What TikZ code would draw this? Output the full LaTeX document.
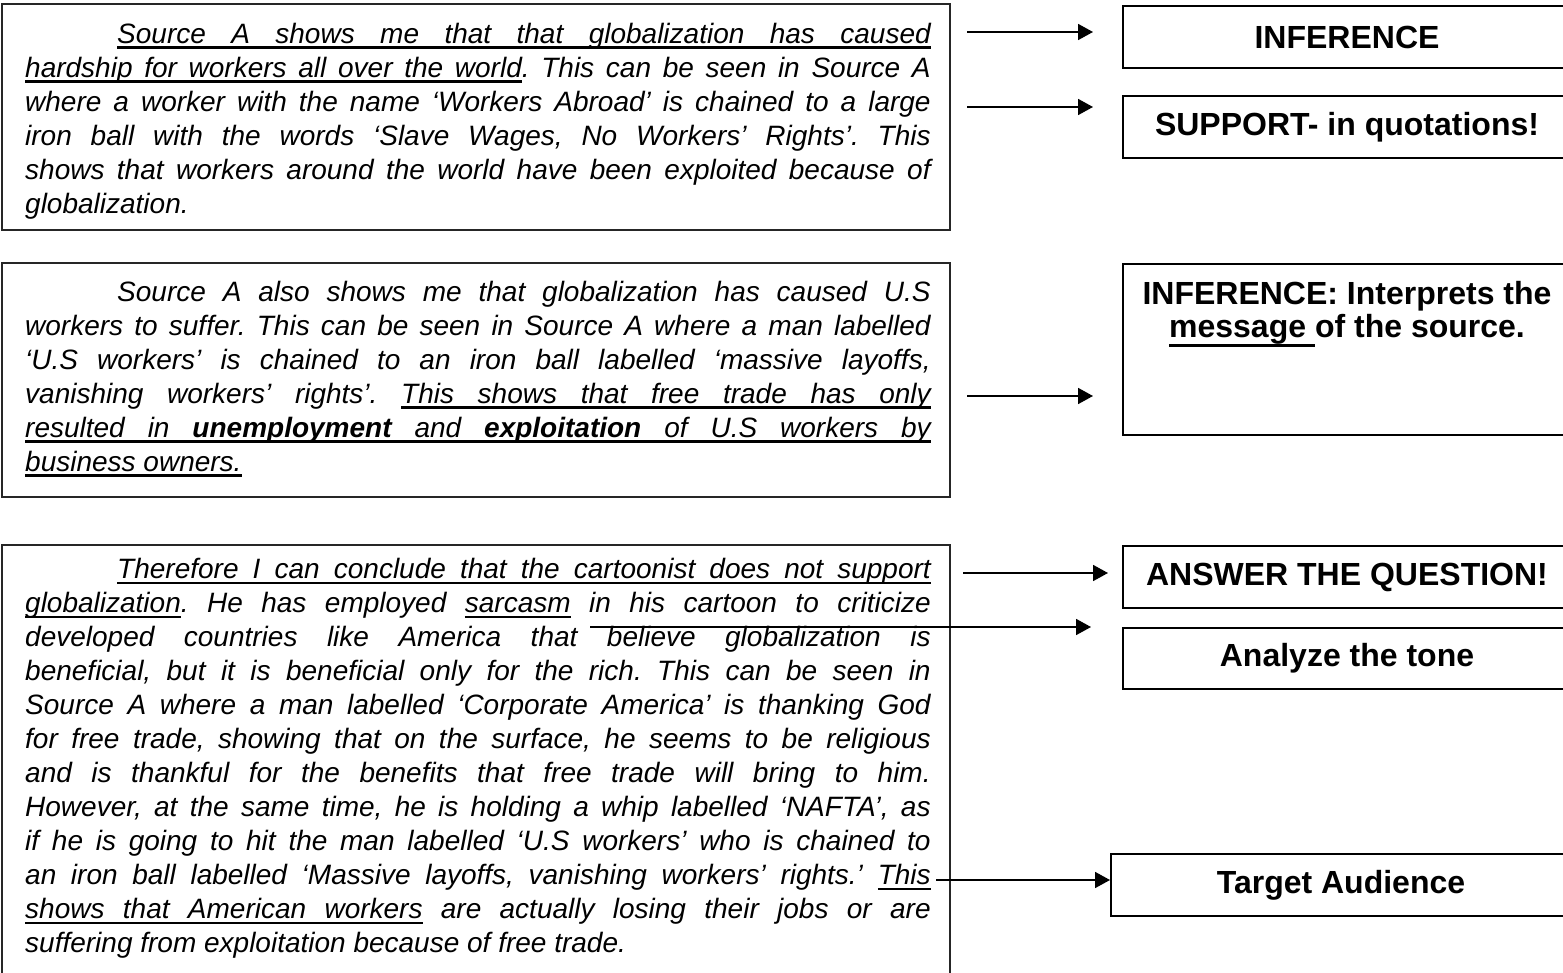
\documentclass[tikz,border=0pt]{standalone}
\usepackage{fontspec}
\usetikzlibrary{arrows.meta}
\newfontfamily\arialfont{Liberation Sans}
\newcommand\srcfont{\arialfont\itshape\fontsize{28pt}{34pt}\selectfont}
\newcommand\tagfont{\arialfont\bfseries\fontsize{32pt}{37pt}\selectfont}
% underlining that keeps the spaces stretchable
\newdimen\uldp \uldp=5.5pt
\newdimen\ulht \ulht=-3pt
\newcommand\ulword[1]{\leavevmode\setbox0\hbox{#1}\rlap{\rule[-\uldp]{\wd0}{\dimexpr\uldp+\ulht\relax}}\box0\relax}
\newcommand\ulspace{\leaders\hrule height\ulht depth\uldp\hskip\fontdimen2\font plus\fontdimen3\font minus\fontdimen4\font\relax}
\def\ulphrase#1{\ulsplit#1 \ulend}
\def\ulsplit#1 #2\ulend{\ulword{#1}\ifx\relax#2\relax\else\ulspace\ulsplit#2\ulend\fi}
\frenchspacing
\tolerance=10000
\hbadness=10000

\begin{document}
\begin{tikzpicture}[
  x=1pt, y=-1pt,
  >={Triangle[length=15pt,width=16pt]},
  frame/.style={draw=black!85, line width=2pt},
  src/.style={anchor=north west, inner sep=0pt, text width=905.5pt, align=justify, font=\srcfont},
  tag/.style={draw, line width=2pt, anchor=north west, minimum width=448pt, minimum height=62pt, inner sep=3pt, font=\tagfont},
  arr/.style={->, line width=1.8pt}
]
\useasboundingbox (0,0) rectangle (1563,973);

%========== source paragraphs (left) ==========
\draw[frame] (2,4) rectangle (950,230);
\node[src] (src1) at (25,19.2) {\strut\hspace*{92pt}\ulphrase{Source A shows me that that globalization has caused}\linebreak
\ulphrase{hardship for workers all over the world}. This can be seen in Source A\linebreak
where a worker with the name ‘Workers Abroad’ is chained to a large\linebreak
iron ball with the words ‘Slave Wages, No Workers’ Rights’. This\linebreak
shows that workers around the world have been exploited because of\linebreak
globalization.};

\draw[frame] (2,263) rectangle (950,497);
\node[src] (src2) at (25,277.2) {\strut\hspace*{92pt}Source A also shows me that globalization has caused U.S\linebreak
workers to suffer. This can be seen in Source A where a man labelled\linebreak
‘U.S workers’ is chained to an iron ball labelled ‘massive layoffs,\linebreak
vanishing workers’ rights’. \ulphrase{This shows that free trade has only}\linebreak
\ulphrase{resulted in {\bfseries unemployment} and {\bfseries exploitation} of U.S workers by}\linebreak
\ulphrase{business owners.}};

\draw[frame] (2,545) rectangle (950,990);
\node[src] (src3) at (25,554.7) {\strut\hspace*{92pt}\ulphrase{Therefore I can conclude that the cartoonist does not support}\linebreak
\ulphrase{globalization}. He has employed \ulphrase{sarcasm} in his cartoon to criticize\linebreak
developed countries like America that believe globalization is\linebreak
beneficial, but it is beneficial only for the rich. This can be seen in\linebreak
Source A where a man labelled ‘Corporate America’ is thanking God\linebreak
for free trade, showing that on the surface, he seems to be religious\linebreak
and is thankful for the benefits that free trade will bring to him.\linebreak
However, at the same time, he is holding a whip labelled ‘NAFTA’, as\linebreak
if he is going to hit the man labelled ‘U.S workers’ who is chained to\linebreak
an iron ball labelled ‘Massive layoffs, vanishing workers’ rights.’ \ulphrase{This}\linebreak
\ulphrase{shows that American workers} are actually losing their jobs or are\linebreak
suffering from exploitation because of free trade.};

%========== tags (right) ==========
\node[tag] (inf1) at (1122,5) {INFERENCE};
\node[tag] (sup) at (1122,95) {SUPPORT- in quotations!};
\node[tag, minimum height=171pt] (inf2) at (1122,263)
  {\uldp=9pt\ulht=-6pt\parbox[t][165pt][t]{442pt}{\baselineskip=33pt\centering
   \rule{0pt}{38pt}INFERENCE: Interprets the\\ \ulword{message}\ulspace of the source.}};
\node[tag] (ans) at (1122,545) {ANSWER THE QUESTION!};
\node[tag, minimum height=61pt] (tone) at (1122,627) {Analyze the tone};
\node[tag, minimum width=460pt] (aud) at (1110,853) {Target Audience};

%========== arrows ==========
\coordinate (a1) at (967,32);
\coordinate (a2) at (967,107);
\coordinate (a3) at (967,396);
\coordinate (a4) at (963,573);
\coordinate (a5) at (590,627);
\coordinate (a6) at (936,880);
\draw[arr, shorten >=29pt] (a1) -- (inf1.west |- a1);
\draw[arr, shorten >=29pt] (a2) -- (sup.west |- a2);
\draw[arr, shorten >=29pt] (a3) -- (inf2.west |- a3);
\draw[arr, shorten >=14pt] (a4) -- (ans.west |- a4);
\draw[arr, shorten >=31pt] (a5) -- (tone.west |- a5);
\draw[arr] (a6) -- (aud.west |- a6);
\end{tikzpicture}
\end{document}
